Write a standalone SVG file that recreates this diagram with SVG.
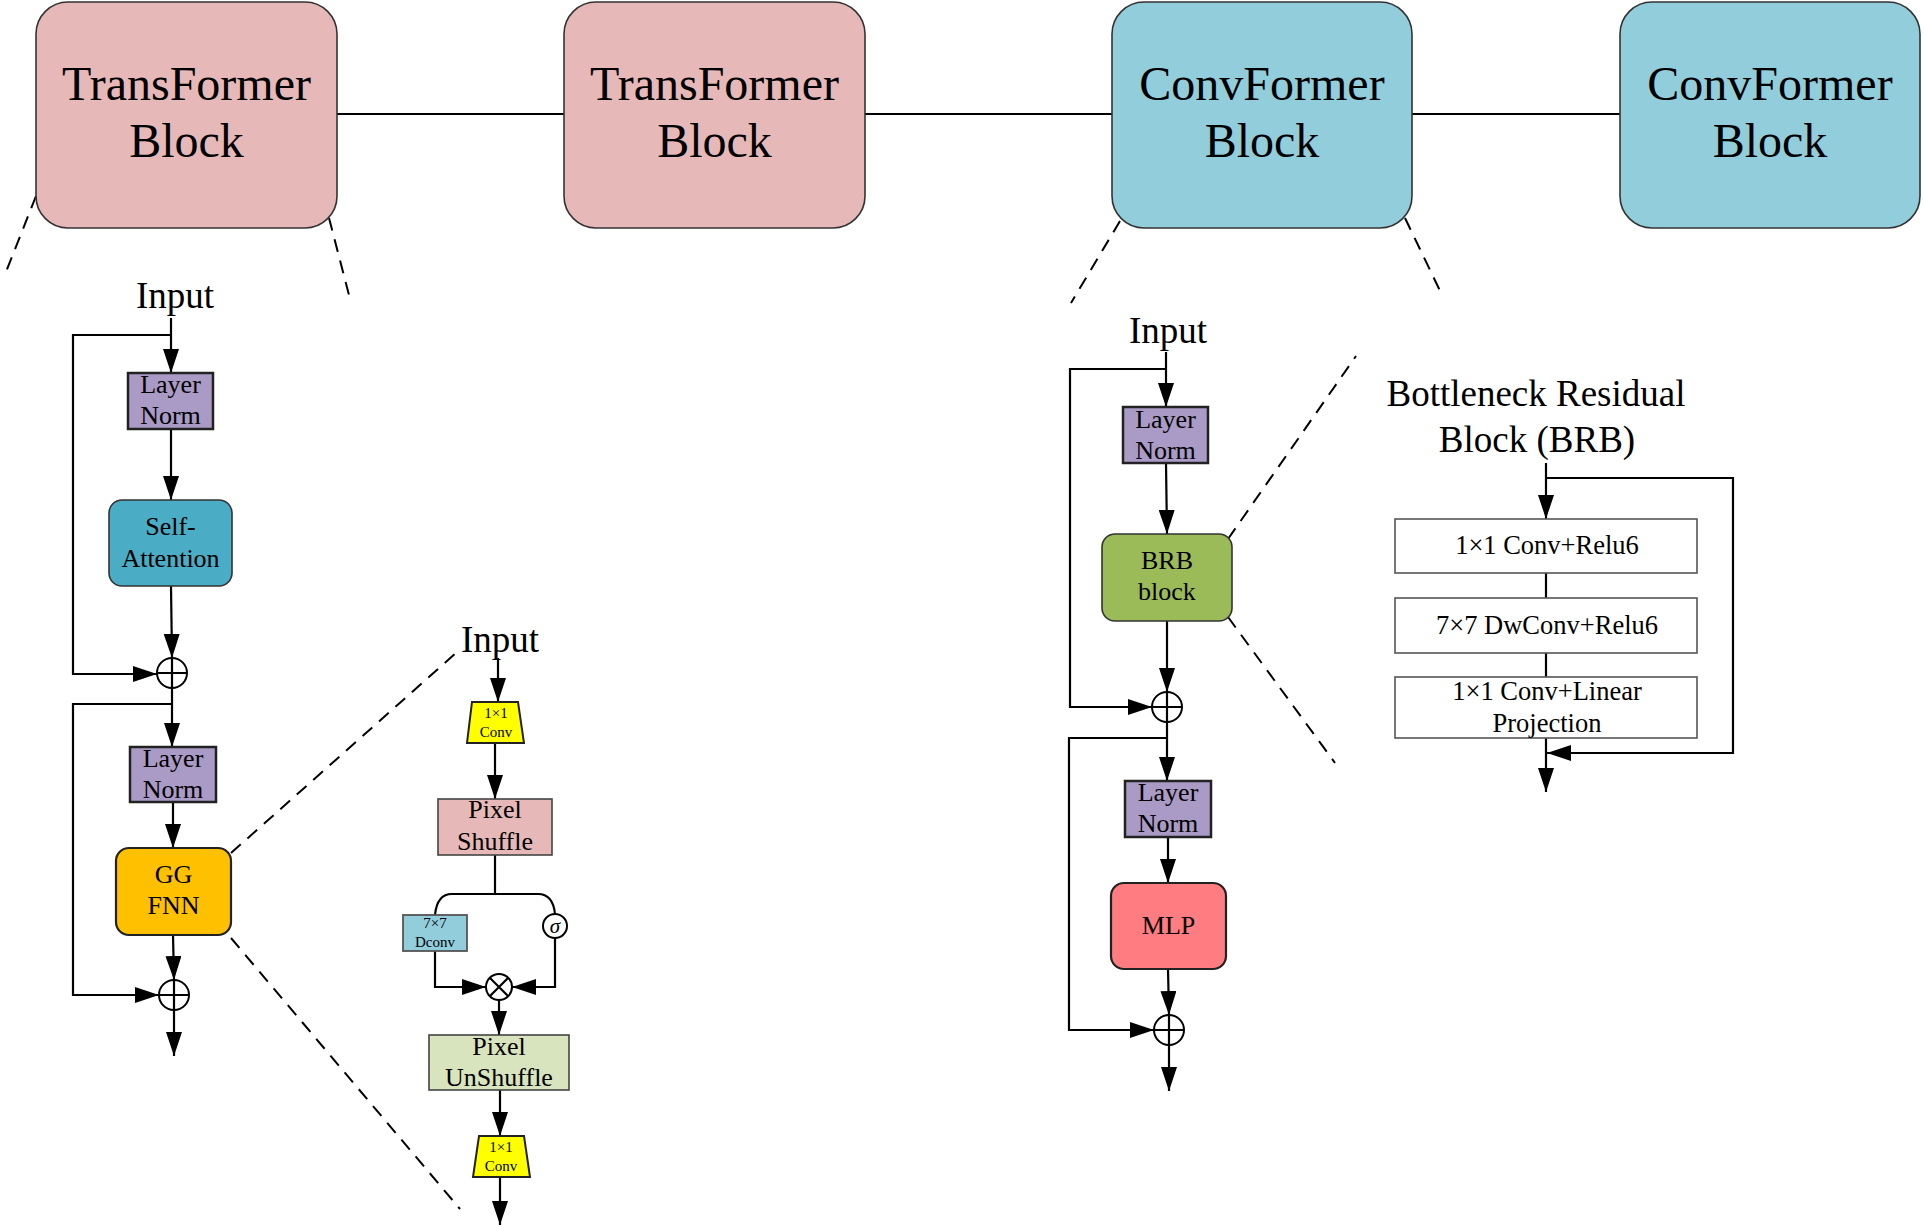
<svg xmlns="http://www.w3.org/2000/svg" width="1924" height="1228" viewBox="0 0 1924 1228">
<style>
text{font-family:"Liberation Serif","Times New Roman",serif;fill:#000;text-anchor:middle}
.big{font-size:48px}
.mid{font-size:37px}
.lab{font-size:26px}
.brb{font-size:26.5px}
.sm{font-size:15px}
.ln{stroke:#000;stroke-width:2.2;fill:none}
.arr{stroke:#000;stroke-width:2.2;fill:none;marker-end:url(#ah)}
.dash{stroke:#000;stroke-width:2;fill:none;stroke-dasharray:13,9}
.lnorm{fill:#A99BC6;stroke:#222;stroke-width:2.5}
.op{fill:#fff;stroke:#000;stroke-width:2}
.wbox{fill:#fff;stroke:#555;stroke-width:1.6}
</style>
<defs>
<marker id="ah" markerUnits="userSpaceOnUse" markerWidth="24" markerHeight="16" viewBox="0 0 24 16" refX="24" refY="8" orient="auto">
<path d="M0,0 L24,8 L0,16 z" fill="#000"/>
</marker>
</defs>
<rect width="1924" height="1228" fill="#fff"/>

<g id="connectors">
<line class="ln" x1="337" y1="114" x2="564" y2="114" stroke-width="2"/>
<line class="ln" x1="865" y1="114" x2="1112" y2="114" stroke-width="2"/>
<line class="ln" x1="1412" y1="114" x2="1620" y2="114" stroke-width="2"/>
<path class="dash" d="M36,196 L4,277"/>
<path class="dash" d="M329,218 L349,295"/>
<path class="dash" d="M231,853 L456,653"/>
<path class="dash" d="M231,938 L460,1209"/>
<path class="dash" d="M1120,221 L1071,303"/>
<path class="dash" d="M1405,218 L1443,297"/>
<path class="dash" d="M1228,539 L1356,356"/>
<path class="dash" d="M1228,617 L1335,763"/>
<path class="arr" d="M171,318 V373"/>
<path class="arr" d="M171,335 H73 V674 H157"/>
<path class="arr" d="M171,429 V500"/>
<path class="arr" d="M171,586 L172,658"/>
<path class="arr" d="M172,688 V747"/>
<path class="arr" d="M172,704 H73 V995 H159"/>
<path class="arr" d="M173,802 V848"/>
<path class="arr" d="M173,935 L174,980"/>
<path class="arr" d="M174,1010 V1056"/>
<path class="arr" d="M498,658 V702"/>
<path class="arr" d="M495,743 V799"/>
<path class="ln" d="M495,855 V894"/>
<path class="ln" d="M435,915 Q437,894 452,894 L538,894 Q553,894 555,914"/>
<path class="arr" d="M435,951 V987 H486"/>
<path class="arr" d="M555,938 V987 H512"/>
<path class="arr" d="M499,1000 V1035"/>
<path class="arr" d="M500,1090 V1136"/>
<path class="arr" d="M500,1177 V1225"/>
<path class="arr" d="M1166,352 V407"/>
<path class="arr" d="M1166,369 H1070 V707 H1152"/>
<path class="arr" d="M1166,463 L1167,534"/>
<path class="arr" d="M1167,621 V692"/>
<path class="arr" d="M1167,722 V781"/>
<path class="arr" d="M1167,738 H1069 V1030 H1154"/>
<path class="arr" d="M1168,837 V883"/>
<path class="arr" d="M1168,969 L1169,1015"/>
<path class="arr" d="M1169,1045 V1091"/>
<path class="arr" d="M1546,463 V519"/>
<path class="arr" d="M1546,478 H1733 V753 H1547"/>
<path class="ln" d="M1546,573 V598"/>
<path class="ln" d="M1546,653 V677"/>
<path class="arr" d="M1546,738 V792"/>
</g>

<g id="tf-block-1">
<rect x="36" y="2" width="301" height="226" rx="32" fill="#E6B9B8" stroke="#333" stroke-width="1.6"/>
<text class="big" x="186.5" y="100">TransFormer</text>
<text class="big" x="186.5" y="157">Block</text>
</g>
<g id="tf-block-2">
<rect x="564" y="2" width="301" height="226" rx="32" fill="#E6B9B8" stroke="#333" stroke-width="1.6"/>
<text class="big" x="714.5" y="100">TransFormer</text>
<text class="big" x="714.5" y="157">Block</text>
</g>
<g id="cf-block-1">
<rect x="1112" y="2" width="300" height="226" rx="32" fill="#92CDDC" stroke="#333" stroke-width="1.6"/>
<text class="big" x="1262" y="100">ConvFormer</text>
<text class="big" x="1262" y="157">Block</text>
</g>
<g id="cf-block-2">
<rect x="1620" y="2" width="300" height="226" rx="32" fill="#92CDDC" stroke="#333" stroke-width="1.6"/>
<text class="big" x="1770" y="100">ConvFormer</text>
<text class="big" x="1770" y="157">Block</text>
</g>

<g id="tf-input"><text class="mid" x="175" y="308">Input</text></g>
<g id="tf-ln1">
<rect class="lnorm" x="128" y="373" width="85" height="56"/>
<text class="lab" x="170.5" y="393">Layer</text>
<text class="lab" x="170.5" y="424">Norm</text>
</g>
<g id="tf-sa">
<rect x="109" y="500" width="123" height="86" rx="13" fill="#4BACC6" stroke="#333" stroke-width="1.6"/>
<text class="lab" x="170.5" y="535">Self-</text>
<text class="lab" x="170.5" y="567">Attention</text>
</g>
<g id="tf-add1">
<circle class="op" cx="172" cy="673" r="15"/>
<path class="ln" d="M157,673 H187 M172,658 V688"/>
</g>
<g id="tf-ln2">
<rect class="lnorm" x="130" y="747" width="86" height="55"/>
<text class="lab" x="173" y="767">Layer</text>
<text class="lab" x="173" y="798">Norm</text>
</g>
<g id="tf-ggfnn">
<rect x="116" y="848" width="115" height="87" rx="13" fill="#FFC000" stroke="#222" stroke-width="2.2"/>
<text class="lab" x="173.5" y="883">GG</text>
<text class="lab" x="173.5" y="914">FNN</text>
</g>
<g id="tf-add2">
<circle class="op" cx="174" cy="995" r="15"/>
<path class="ln" d="M159,995 H189 M174,980 V1010"/>
</g>

<g id="gg-input"><text class="mid" x="500" y="652">Input</text></g>
<g id="gg-conv1">
<path d="M472,702 L518,702 L524,743 L467,743 z" fill="#FFFF00" stroke="#222" stroke-width="2"/>
<text class="sm" x="496" y="718">1×1</text>
<text class="sm" x="496" y="737">Conv</text>
</g>
<g id="gg-shuffle">
<rect x="438" y="799" width="114" height="56" fill="#E6B9B8" stroke="#444" stroke-width="1.6"/>
<text class="lab" x="495" y="818">Pixel</text>
<text class="lab" x="495" y="850">Shuffle</text>
</g>
<g id="gg-dconv">
<rect x="403" y="915" width="64" height="36" fill="#92CDDC" stroke="#555" stroke-width="1.8"/>
<text class="sm" x="435" y="928">7×7</text>
<text class="sm" x="435" y="947">Dconv</text>
</g>
<g id="gg-sigma">
<circle class="op" cx="555" cy="926" r="12"/>
<text x="555" y="933" style="font-size:21px;font-style:italic">σ</text>
</g>
<g id="gg-mul">
<circle class="op" cx="499" cy="987" r="13"/>
<path class="ln" d="M490,978 L508,996 M508,978 L490,996" stroke-width="1.8"/>
</g>
<g id="gg-unshuffle">
<rect x="429" y="1035" width="140" height="55" fill="#D7E4BD" stroke="#444" stroke-width="1.6"/>
<text class="lab" x="499" y="1055">Pixel</text>
<text class="lab" x="499" y="1086">UnShuffle</text>
</g>
<g id="gg-conv2">
<path d="M479,1136 L524,1136 L530,1177 L473,1177 z" fill="#FFFF00" stroke="#222" stroke-width="2"/>
<text class="sm" x="501" y="1152">1×1</text>
<text class="sm" x="501" y="1171">Conv</text>
</g>

<g id="cf-input"><text class="mid" x="1168" y="343">Input</text></g>
<g id="cf-ln1">
<rect class="lnorm" x="1123" y="407" width="85" height="56"/>
<text class="lab" x="1165.5" y="428">Layer</text>
<text class="lab" x="1165.5" y="459">Norm</text>
</g>
<g id="cf-brb">
<rect x="1102" y="534" width="130" height="87" rx="13" fill="#9BBB59" stroke="#333" stroke-width="1.6"/>
<text class="lab" x="1167" y="569">BRB</text>
<text class="lab" x="1167" y="600">block</text>
</g>
<g id="cf-add1">
<circle class="op" cx="1167" cy="707" r="15"/>
<path class="ln" d="M1152,707 H1182 M1167,692 V722"/>
</g>
<g id="cf-ln2">
<rect class="lnorm" x="1125" y="781" width="86" height="56"/>
<text class="lab" x="1168" y="801">Layer</text>
<text class="lab" x="1168" y="832">Norm</text>
</g>
<g id="cf-mlp">
<rect x="1111" y="883" width="115" height="86" rx="13" fill="#FF7C80" stroke="#222" stroke-width="2.2"/>
<text class="lab" x="1168.5" y="934">MLP</text>
</g>
<g id="cf-add2">
<circle class="op" cx="1169" cy="1030" r="15"/>
<path class="ln" d="M1154,1030 H1184 M1169,1015 V1045"/>
</g>

<g id="brb-title">
<text class="mid" x="1536" y="406">Bottleneck Residual</text>
<text class="mid" x="1537" y="452">Block (BRB)</text>
</g>
<g id="brb-conv1">
<rect class="wbox" x="1395" y="519" width="302" height="54"/>
<text class="brb" x="1547" y="554">1×1 Conv+Relu6</text>
</g>
<g id="brb-dwconv">
<rect class="wbox" x="1395" y="598" width="302" height="55"/>
<text class="brb" x="1547" y="634">7×7 DwConv+Relu6</text>
</g>
<g id="brb-proj">
<rect class="wbox" x="1395" y="677" width="302" height="61"/>
<text class="brb" x="1547" y="700">1×1 Conv+Linear</text>
<text class="brb" x="1547" y="732">Projection</text>
</g>
</svg>
